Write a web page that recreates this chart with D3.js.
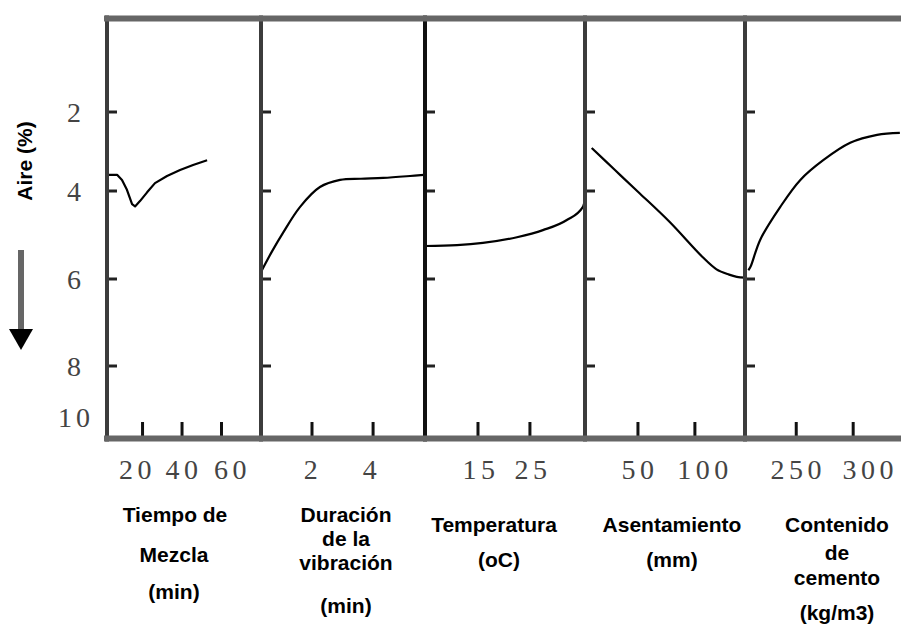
<!DOCTYPE html>
<html>
<head>
<meta charset="utf-8">
<script src="https://cdn.jsdelivr.net/npm/d3@7"></script>
<style>
  html, body { margin: 0; padding: 0; background: #fff; }
  svg { display: block; }
</style>
</head>
<body>
<script>
// ---------------- DATA ----------------
const yTickValues = [2, 4, 6, 8, 10];
const yTickMarks = [2, 4, 6, 8];

const panelNames = ["mezcla", "vibracion", "temperatura", "asentamiento", "cemento"];
const panelDomains = [[2, 80], [0.33, 5.7], [4.8, 35.6], [3.5, 144], [205, 342]];
const xTicks = [[20, 40, 60], [2, 4], [15, 25], [50, 100], [250, 300]];

const titles = [
  ["Tiempo de", "Mezcla", "(min)"],
  ["Duración", "de la", "vibración", "(min)"],
  ["Temperatura", "(oC)"],
  ["Asentamiento", "(mm)"],
  ["Contenido", "de", "cemento", "(kg/m3)"]
];

// Series (x in panel units, y = aire %)
const mezclaX   = [2.5, 7.1, 9.6, 12.1, 14.7, 16.2, 18.7, 22.3, 26.3, 32.4, 39.0, 45.6, 52.7];
const mezclaAir = [3.59, 3.59, 3.72, 3.97, 4.30, 4.35, 4.23, 4.03, 3.80, 3.62, 3.47, 3.34, 3.22];

const vibracionX   = [0.36, 0.7, 1.05, 1.61, 2.26, 2.92, 3.6, 4.33, 5.21, 5.66];
const vibracionAir = [5.80, 5.36, 4.95, 4.36, 3.90, 3.72, 3.69, 3.67, 3.62, 3.59];

const temperaturaX   = [4.8, 10.95, 15.95, 22.5, 27.5, 32.1, 35.2, 35.6];
const temperaturaAir = [5.25, 5.23, 5.18, 5.05, 4.89, 4.66, 4.36, 4.20];

const asentamientoX   = [9.4, 29.8, 51.4, 77.7, 106.7, 119, 130, 136.8, 144];
const asentamientoAir = [2.91, 3.47, 4.05, 4.70, 5.50, 5.78, 5.90, 5.95, 5.97];

const cementoX   = [207.9, 209.7, 218.5, 236, 253.6, 273.7, 297.4, 321, 341];
const cementoAir = [5.80, 5.73, 5.10, 4.36, 3.72, 3.22, 2.78, 2.58, 2.53];

const seriesX = [mezclaX, vibracionX, temperaturaX, asentamientoX, cementoX];
const seriesY = [mezclaAir, vibracionAir, temperaturaAir, asentamientoAir, cementoAir];

// ---------------- LAYOUT ----------------
const W = 901, H = 626;
const panelRanges = [[107, 261], [261, 425], [425, 585], [585, 745], [745, 901]];
const topY = 18.5, bottomY = 438.5;
const titleX = [[175, 174, 174], [346, 346, 346, 346], [494, 499], [672, 672], [837, 837, 837, 837]];
const titleBase = [[522, 562, 599], [522, 546, 570, 613], [532, 567], [532, 567], [532, 560, 585, 620]];
const tickLabelDx = [[-7, 0, 9], [-1, -3], [1, 1], [0, 8], [0, 15]];
const curveTypes = [d3.curveLinear, d3.curveCatmullRom, d3.curveMonotoneX, d3.curveCatmullRom, d3.curveCatmullRom];

const svg = d3.select("body").append("svg").attr("width", W).attr("height", H);

const y = d3.scaleLinear().domain([0, 2, 4, 6, 8, 10]).range([33, 112, 191, 279, 366, 417]);

const xScales = panelDomains.map((d, i) => d3.scaleLinear().domain(d).range(panelRanges[i]));

// curves
const g = svg.append("g");
xScales.forEach((xs, i) => {
  const pts = seriesX[i].map((v, k) => [v, seriesY[i][k]]);
  const line = d3.line().x(d => xs(d[0])).y(d => y(d[1])).curve(curveTypes[i]);
  g.append("path").datum(pts).attr("d", line)
    .attr("fill", "none").attr("stroke", "#000").attr("stroke-width", 2.2)
    .attr("stroke-linejoin", "round");
});

// y tick marks inside each panel + bottom ticks
xScales.forEach((xs, i) => {
  const x0 = panelRanges[i][0];
  g.selectAll(null).data(yTickMarks).enter().append("line")
    .attr("x1", x0).attr("x2", x0 + 10)
    .attr("y1", d => y(d)).attr("y2", d => y(d))
    .attr("stroke", "#222").attr("stroke-width", 3);
  g.selectAll(null).data(xTicks[i]).enter().append("line")
    .attr("x1", d => xs(d)).attr("x2", d => xs(d))
    .attr("y1", 422).attr("y2", bottomY)
    .attr("stroke", "#111").attr("stroke-width", 3);
});

// panel dividers
const dividerX = panelRanges.map(r => r[0]);
g.selectAll(null).data(dividerX).enter().append("line")
  .attr("x1", d => d).attr("x2", d => d)
  .attr("y1", topY - 3).attr("y2", bottomY + 3)
  .attr("stroke", (d, i) => i === 2 ? "#111" : "#3c3c3c").attr("stroke-width", 4);

// top and bottom borders
g.append("line").attr("x1", 104).attr("x2", W).attr("y1", topY).attr("y2", topY)
  .attr("stroke", "#666").attr("stroke-width", 6);
g.append("line").attr("x1", 104).attr("x2", W).attr("y1", bottomY).attr("y2", bottomY)
  .attr("stroke", "#666").attr("stroke-width", 6);

// y tick labels
svg.selectAll(null).data(yTickValues).enter().append("text")
  .attr("x", 76).attr("y", d => y(d)).attr("dy", "0.36em")
  .attr("text-anchor", "middle")
  .attr("font-family", "'Liberation Serif', 'DejaVu Serif', serif")
  .attr("font-size", 28).attr("letter-spacing", 4)
  .attr("fill", "#444")
  .text(d => d);

// x tick labels
xScales.forEach((xs, i) => {
  svg.selectAll(null).data(xTicks[i]).enter().append("text")
    .attr("x", (d, k) => xs(d) + 2 + tickLabelDx[i][k]).attr("y", 479)
    .attr("text-anchor", "middle")
    .attr("font-family", "'Liberation Serif', 'DejaVu Serif', serif")
    .attr("font-size", 28).attr("letter-spacing", 4.5)
    .attr("fill", "#444")
    .text(d => d);
});

// panel titles
titles.forEach((lines, i) => {
  svg.selectAll(null).data(lines).enter().append("text")
    .attr("x", (d, k) => titleX[i][k]).attr("y", (d, k) => titleBase[i][k])
    .attr("text-anchor", "middle")
    .attr("font-family", "'Liberation Sans', Arial, sans-serif")
    .attr("font-weight", "bold").attr("font-size", 21)
    .attr("fill", "#000")
    .text(d => d);
});

// y axis title and arrow
svg.append("text")
  .attr("transform", "translate(32,161) rotate(-90)")
  .attr("text-anchor", "middle")
  .attr("font-family", "'Liberation Sans', Arial, sans-serif")
  .attr("font-weight", "bold").attr("font-size", 21)
  .attr("fill", "#000")
  .text("Aire (%)");

svg.append("line").attr("x1", 21).attr("x2", 21).attr("y1", 250).attr("y2", 332)
  .attr("stroke", "#666").attr("stroke-width", 6);
svg.append("path")
  .attr("d", d3.line()([[9, 329], [33, 329], [21, 350]]) + "Z")
  .attr("fill", "#000");
</script>
</body>
</html>
